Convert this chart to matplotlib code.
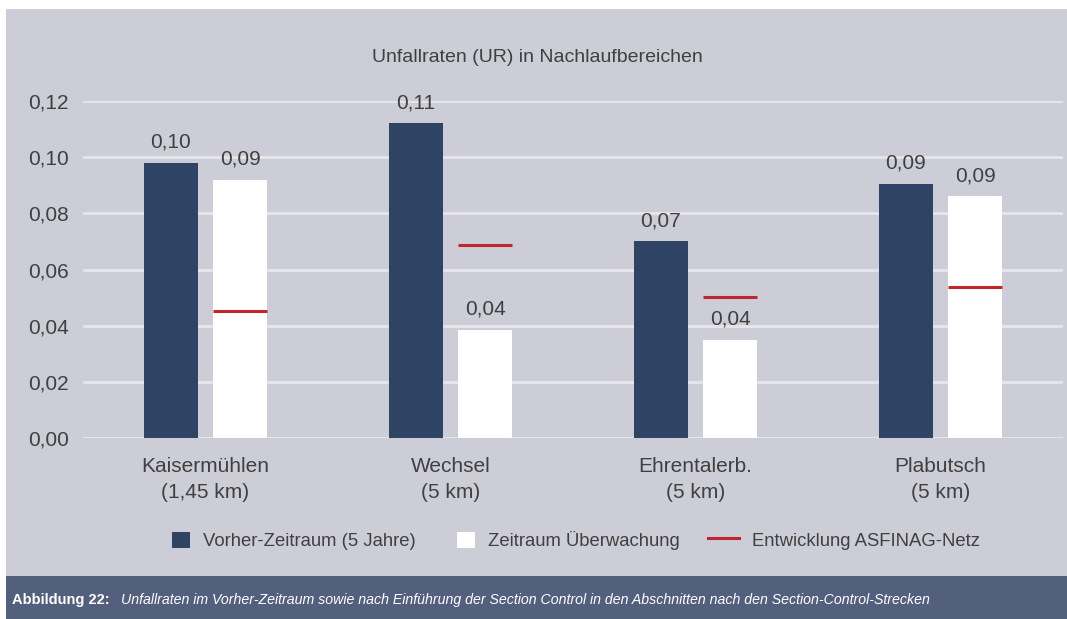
import matplotlib
matplotlib.use('Agg')
import matplotlib.pyplot as plt
from matplotlib.patches import Rectangle, Patch
from matplotlib.lines import Line2D
from matplotlib.legend_handler import HandlerLine2D
import numpy as np

plt.rcParams['font.family'] = ['Liberation Sans Narrow', 'Liberation Sans', 'DejaVu Sans']

strecken = ['Kaisermühlen\n(1,45 km)', 'Wechsel\n(5 km)', 'Ehrentalerb.\n(5 km)', 'Plabutsch\n(5 km)']
vorher = [0.098, 0.112, 0.070, 0.0905]
ueberwachung = [0.092, 0.0385, 0.035, 0.086]
asfinag = [0.0452, 0.0687, 0.0502, 0.0538]
vorher_labels = ['0,10', '0,11', '0,07', '0,09']
ueberw_labels = ['0,09', '0,04', '0,04', '0,09']

bg = '#cdcdd8'
dunkel = '#2f4464'
rot = '#c0272d'
textfarbe = '#404040'

fig = plt.figure(figsize=(10.67, 6.19), dpi=100)
fig.patch.set_facecolor('white')
# grauer Hintergrund + Band unten
fig.patches.append(Rectangle((6 / 1067, 0), 1, 1 - 9 / 619, transform=fig.transFigure,
                             facecolor=bg, edgecolor='none', zorder=-10))
fig.patches.append(Rectangle((6 / 1067, 0), 1, 43 / 619, transform=fig.transFigure,
                             facecolor='#525f7d', edgecolor='none', zorder=-9))

ax = fig.add_axes([83 / 1067, 1 - 438 / 619, (1063 - 83) / 1067, (438 - 101) / 619])
ax.set_facecolor('none')

x = np.arange(len(strecken))
w = 0.224
off = 0.141
ax.bar(x - off, vorher, width=w, color=dunkel, zorder=3)
ax.bar(x + off, ueberwachung, width=w, color='white', zorder=3)
ax.hlines(asfinag, x + off - w / 2, x + off + w / 2, color=rot, linewidth=2.2, zorder=4)

for i in range(len(x)):
    ax.text(x[i] - off, vorher[i] + 0.004, vorher_labels[i], ha='center', va='bottom',
            fontsize=15, color=textfarbe)
    ax.text(x[i] + off, ueberwachung[i] + 0.004, ueberw_labels[i], ha='center', va='bottom',
            fontsize=15, color=textfarbe)

ax.set_xlim(-0.5, 3.5)
ax.set_ylim(0, 0.12)
ax.set_yticks(np.arange(0, 0.121, 0.02))
ax.set_yticklabels(['0,00', '0,02', '0,04', '0,06', '0,08', '0,10', '0,12'])
ax.set_xticks(x)
ax.set_xticklabels(strecken, linespacing=1.45)
ax.tick_params(axis='both', length=0, labelsize=15, labelcolor=textfarbe)
ax.tick_params(axis='y', pad=10)
ax.tick_params(axis='x', pad=14)
ax.grid(axis='y', color='#e6e6ea', linewidth=2, zorder=0)
for s in ax.spines.values():
    s.set_visible(False)

fig.text(537 / 1067, 1 - 57 / 619, 'Unfallraten (UR) in Nachlaufbereichen', ha='center', va='center',
         fontsize=14, color=textfarbe)


class LangeLinie(HandlerLine2D):
    # rote Linie in der Legende etwas länger als die Kästchen
    def create_artists(self, legend, orig_handle, xdescent, ydescent, width, height, fontsize, trans):
        extra = width * 0.7
        line = Line2D([-extra, width], [height / 2, height / 2], color=rot, linewidth=2.2,
                      transform=trans)
        return [line]


handles = [Patch(facecolor=dunkel, edgecolor='none'),
           Patch(facecolor='white', edgecolor='none'),
           Line2D([0], [0], color=rot, linewidth=2.2)]
fig.legend(handles, ['Vorher-Zeitraum (5 Jahre)', 'Zeitraum Überwachung', 'Entwicklung ASFINAG-Netz'],
           loc='center', bbox_to_anchor=(576 / 1067, 1 - 541 / 619), ncol=3, frameon=False,
           fontsize=13.3, labelcolor=textfarbe, handlelength=1.0, handleheight=1.0,
           columnspacing=2.2, handletextpad=0.7,
           handler_map={Line2D: LangeLinie()})

fig.text(12 / 1067, 1 - 600 / 619, 'Abbildung 22:', ha='left', va='center', fontsize=10.5,
         color='white', fontweight='bold')
fig.text(121 / 1067, 1 - 600 / 619,
         'Unfallraten im Vorher-Zeitraum sowie nach Einführung der Section Control in den Abschnitten nach den Section-Control-Strecken',
         ha='left', va='center', fontsize=10.2, color='white', style='italic')

fig.savefig('out.png', dpi=100, facecolor=fig.get_facecolor())
